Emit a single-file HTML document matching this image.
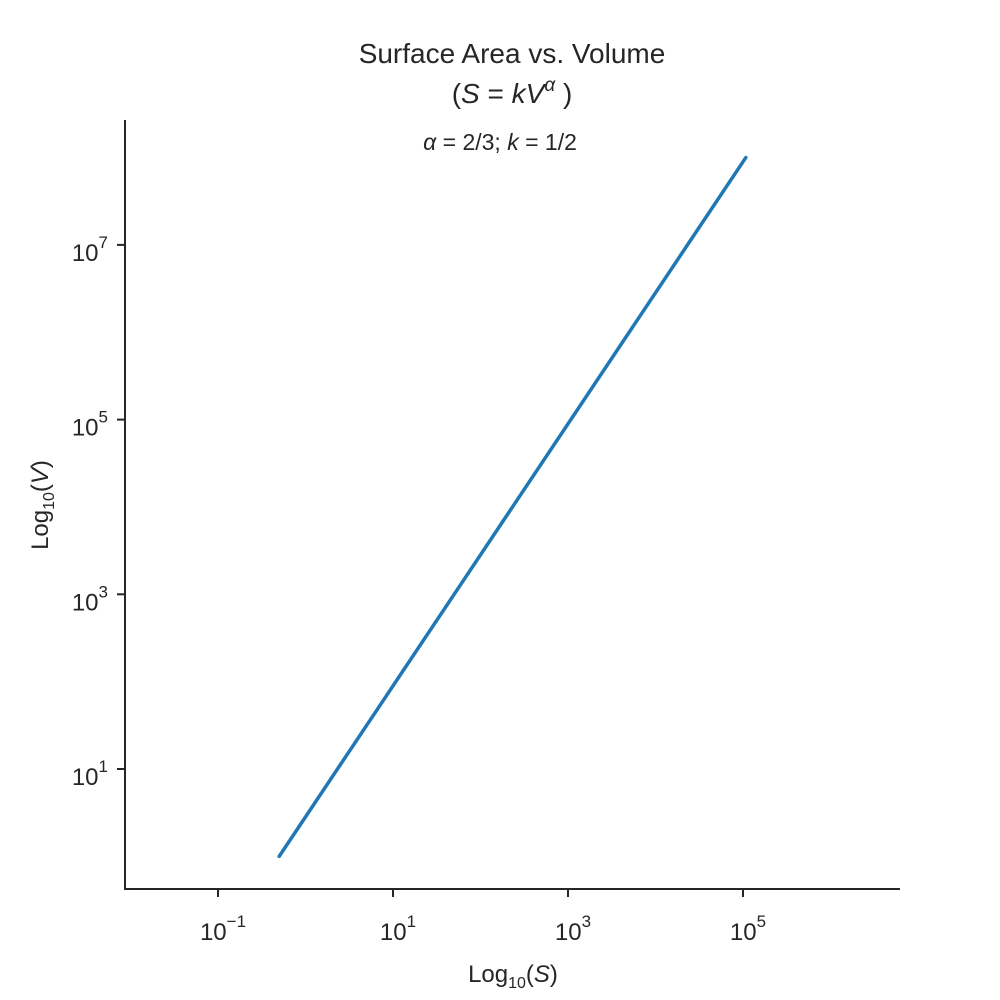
<!DOCTYPE html>
<html><head><meta charset="utf-8">
<style>
html,body{margin:0;padding:0;background:#fff;}
svg{display:block;font-family:"Liberation Sans","DejaVu Sans",sans-serif;}
</style></head>
<body>
<svg id="chart" width="1000" height="1000" viewBox="0 0 1000 1000">
  <rect width="1000" height="1000" fill="#fff"/>
  <text x="512" y="63" font-size="28" fill="#262626" text-anchor="middle">Surface Area vs. Volume</text>
  <text x="512" y="103" font-size="28" fill="#262626" text-anchor="middle">(<tspan font-style="italic">S</tspan> = <tspan font-style="italic">kV</tspan><tspan font-style="italic" font-size="19" dy="-12">α</tspan><tspan dy="12"> )</tspan></text>
  <text x="500" y="150" font-size="23" fill="#262626" text-anchor="middle"><tspan font-style="italic">α</tspan> = 2/3; <tspan font-style="italic">k</tspan> = 1/2</text>
  <g id="axes"></g>
  <path id="series" fill="none" stroke="#1f77b4" stroke-width="3.5" stroke-linecap="round"/>
  <line x1="125" y1="120" x2="125" y2="889" stroke="#262626" stroke-width="2"/>
  <line x1="124" y1="889" x2="900" y2="889" stroke="#262626" stroke-width="2"/>
  <text x="513" y="982" font-size="24" fill="#262626" text-anchor="middle">Log<tspan font-size="16" dy="6">10</tspan><tspan dy="-6">(</tspan><tspan font-style="italic">S</tspan>)</text>
  <text transform="translate(48,505) rotate(-90)" font-size="24" fill="#262626" text-anchor="middle">Log<tspan font-size="16" dy="6">10</tspan><tspan dy="-6">(</tspan><tspan font-style="italic">V</tspan>)</text>
</svg>
<script>
const volumeValues = [1, 10, 100, 1000, 10000, 100000, 1000000, 10000000, 100000000];
const surfaceValues = [0.5, 2.32, 10.77, 50, 232.1, 1077.2, 5000, 23208, 107722];
const xTickExps = [-1, 1, 3, 5];
const yTickExps = [1, 3, 5, 7];

function xScale(v){ return 393 + (Math.log10(v) - 1) * 87.5; }
function yScale(v){ return 769 - (Math.log10(v) - 1) * 87.35; }

const NS = "http://www.w3.org/2000/svg";
const axes = document.getElementById('axes');
function supLabel(x, y, exp, anchor){
  const t = document.createElementNS(NS, 'text');
  t.setAttribute('x', x); t.setAttribute('y', y);
  t.setAttribute('font-size', '24'); t.setAttribute('fill', '#262626');
  t.setAttribute('text-anchor', anchor);
  const e = (exp < 0 ? '\u2212' : '') + Math.abs(exp);
  t.innerHTML = '10<tspan font-size="17" dy="-13">' + e + '</tspan>';
  return t;
}
xTickExps.forEach(function(e){
  const x = xScale(Math.pow(10, e));
  const l = document.createElementNS(NS, 'line');
  l.setAttribute('x1', x); l.setAttribute('x2', x);
  l.setAttribute('y1', 889); l.setAttribute('y2', 897);
  l.setAttribute('stroke', '#262626'); l.setAttribute('stroke-width', '2');
  
  
  axes.appendChild(l);
  const t = supLabel(x + 5, 940, e, 'middle');
  
  
  axes.appendChild(t);
});
yTickExps.forEach(function(e){
  const y = yScale(Math.pow(10, e));
  const l = document.createElementNS(NS, 'line');
  l.setAttribute('x1', 117); l.setAttribute('x2', 125);
  l.setAttribute('y1', y); l.setAttribute('y2', y);
  l.setAttribute('stroke', '#262626'); l.setAttribute('stroke-width', '2');
  
  
  axes.appendChild(l);
  const t = supLabel(108, y + 16, e, 'end');
  
  
  axes.appendChild(t);
});
let d = '';
for (let i = 0; i < volumeValues.length; i++){
  d += (i ? 'L' : 'M') + xScale(surfaceValues[i]).toFixed(2) + ',' + yScale(volumeValues[i]).toFixed(2);
}
document.getElementById('series').setAttribute('d', d);
</script>
</body></html>
